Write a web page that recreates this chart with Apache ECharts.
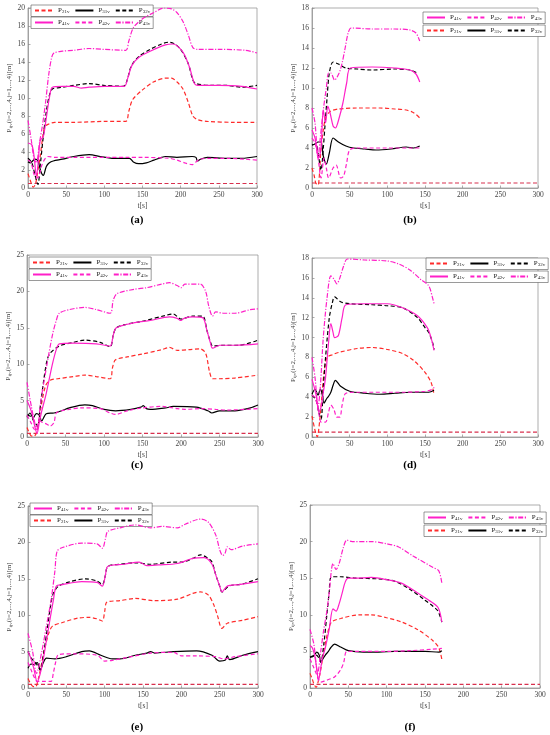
<!DOCTYPE html>
<html><head><meta charset="utf-8">
<script src="https://cdn.jsdelivr.net/npm/echarts@6/dist/echarts.min.js"></script>
<style>html,body{margin:0;padding:0;background:#fff}#c{width:550px;height:735px}</style>
</head><body><div id="c"></div>
<script>
// ---- Data (t [s], value [m]) ----
const SAFE = [[0,0.5],[300,0.5]];

const A_P21 = [[0,1.6],[4,0.6],[7,0.1],[10,0.5],[13,2],[16,3.5],[19,5.5],[22,6.8],[27,7.1],[35,7.3],[60,7.3],[100,7.4],[128,7.4],[132,8.5],[137,9.8],[150,10.9],[165,11.8],[180,12.2],[188,12.2],[195,11.8],[203,11],[210,9.5],[216,8],[222,7.6],[235,7.4],[270,7.3],[300,7.3]];
const A_P31 = [[0,2.9],[3,2.8],[9,3.2],[13,3.0],[17,1.8],[20,1.4],[24,2.4],[28,2.8],[33,3.0],[45,3.2],[60,3.5],[80,3.7],[95,3.5],[110,3.3],[128,3.3],[133,3.3],[138,2.9],[145,2.7],[155,2.8],[165,3.1],[175,3.4],[180,3.5],[195,3.4],[215,3.5],[220,3.4],[222,3.0],[226,3.2],[235,3.4],[260,3.3],[280,3.3],[300,3.5]];
const A_P32 = [[0,3.3],[5,2.8],[9,1.5],[13,0.4],[16,2.5],[20,5.7],[24,8.5],[28,10.3],[32,11],[45,11.2],[60,11.4],[80,11.6],[100,11.4],[125,11.3],[130,12],[135,13.5],[145,14.6],[160,15.4],[175,16],[185,16.2],[192,16],[200,15.4],[210,13.8],[216,12],[220,11.6],[240,11.4],[260,11.4],[280,11.2],[300,11.4]];
const A_P41 = [[0,5],[5,4.8],[8,3.5],[11,1.3],[13,2.5],[16,5.3],[20,5.7],[24,7.8],[28,10],[32,11.2],[45,11.3],[60,11.3],[70,11.1],[80,11.2],[100,11.3],[126,11.3],[131,12.3],[136,13.6],[145,14.5],[160,15.2],[180,15.9],[190,16],[198,15.6],[205,14.8],[212,13.3],[218,11.6],[222,11.4],[250,11.4],[280,11.3],[300,11.0]];
const A_P42 = [[0,3.1],[4,2.8],[8,1.5],[11,1.1],[14,1.3],[18,2.5],[22,3.2],[26,3.5],[35,3.4],[60,3.4],[100,3.4],[130,3.4],[150,3.4],[185,3.3],[195,3.1],[205,2.8],[215,2.6],[220,2.9],[225,3.2],[240,3.3],[260,3.3],[285,3.2],[300,3.1]];
const A_P43 = [[0,7.5],[4,5.5],[8,3.2],[11,2.8],[15,5],[19,7],[23,9.5],[27,12.5],[31,14.5],[34,15],[45,15.2],[60,15.3],[80,15.5],[100,15.4],[128,15.3],[132,16.3],[138,17.8],[150,18.8],[165,19.5],[178,20],[188,19.9],[195,19.5],[203,18.5],[210,17],[216,15.6],[222,15.4],[250,15.4],[285,15.3],[300,15.0]];

const B_P21 = [[0,2],[3,1.2],[5,0.5],[8,0.3],[10,1.5],[12,4],[15,5.8],[18,7],[22,7.5],[25,7.7],[35,7.9],[60,8],[90,8],[110,7.9],[125,7.8],[133,7.6],[139,7.3],[143,7]];
const B_P31 = [[0,4.3],[4,4.4],[8,4.6],[12,4.6],[15,3.2],[19,2.4],[23,3.5],[28,5],[35,4.6],[45,4.2],[55,4.0],[70,3.9],[85,3.8],[105,3.9],[125,4.1],[135,4.0],[143,4.2]];
const B_P32 = [[0,4.3],[5,4.4],[8,3.5],[12,1.8],[15,4],[17,6],[20,9],[23,11.5],[28,12.6],[35,12.4],[45,12],[60,11.9],[80,11.8],[110,11.9],[130,11.8],[140,11.5]];
const B_P41 = [[0,5.8],[4,5],[9,3],[12,4],[15,7.8],[18,6.5],[21,8.2],[24,7.5],[28,6.2],[31,6],[36,7],[41,8.5],[46,10.5],[51,12],[80,12.1],[110,12],[130,11.8],[138,11.4],[143,10.6]];
const B_P42 = [[0,5],[4,4.5],[8,3],[12,1],[16,3],[19,2],[22,1],[28,2],[32,2.3],[38,1],[42,1.2],[46,2.5],[50,3.8],[60,4],[100,4],[130,4],[143,4]];
const B_P43 = [[0,8],[4,6.5],[8,3],[11,5],[15,7.8],[19,10],[22,11.5],[25,11.5],[30,10.8],[36,11.5],[40,12.5],[44,14],[48,15.5],[52,16],[80,15.9],[110,15.9],[130,15.8],[138,15.5],[143,14.7]];

const C_P21 = [[0,1.3],[5,0.2],[9,0.1],[13,0.8],[18,4],[24,7],[30,7.8],[40,8],[60,8.3],[75,8.5],[90,8.3],[108,8],[111,9.5],[115,10.6],[130,11],[150,11.4],[175,12],[185,12.3],[195,11.9],[210,12],[225,12.1],[232,11.5],[237,9],[241,8],[250,8],[270,8.1],[300,8.5]];
const C_P31 = [[0,2.7],[4,3.3],[8,2.6],[12,3.2],[16,3],[19,2.2],[25,3.2],[35,3.3],[45,3.6],[55,4],[75,4.4],[85,4.3],[100,3.8],[115,3.6],[135,3.8],[148,4.1],[151,4.3],[155,3.9],[160,3.8],[180,4],[190,4.2],[220,4.1],[235,3.6],[240,3.3],[250,3.6],[270,3.6],[290,4],[300,4.4]];
const C_P32 = [[0,3],[5,2.8],[10,2],[14,1.5],[17,4],[22,8],[26,10.5],[30,11.5],[42,12.5],[60,13],[75,13.3],[95,13],[108,12.4],[112,14],[116,15],[130,15.5],[150,15.9],[180,16.7],[190,16.9],[200,16.2],[215,16.6],[228,16.6],[234,14.5],[239,12.8],[241,12.5],[255,12.6],[275,12.6],[300,13.3]];
const C_P41 = [[0,5],[4,4],[7,3],[10,1.5],[13,0.5],[16,2],[19,3.5],[25,6],[33,10],[38,12],[42,12.8],[60,12.9],[90,12.8],[108,12.5],[112,14],[116,15],[140,15.7],[160,16],[185,16.5],[195,16.3],[200,16],[204,16.3],[215,16.5],[228,16.4],[234,14.5],[238,13],[241,12.2],[250,12.6],[270,12.6],[300,12.8]];
const C_P42 = [[0,3],[5,2],[10,1],[13,1.5],[17,2.2],[20,2],[25,1.8],[30,1.5],[35,2],[38,3.3],[45,3.6],[55,3.8],[70,4],[95,3.9],[108,3.3],[115,3.1],[130,3.6],[150,4],[175,4.2],[195,3.9],[205,3.8],[225,3.9],[245,3.8],[260,3.7],[300,3.9]];
const C_P43 = [[0,7.5],[6,4],[10,2],[13,1],[18,5],[26,10],[33,14],[38,16],[42,17],[55,17.5],[75,17.8],[90,17.5],[108,17],[112,18.8],[117,19.7],[140,20.3],[155,20.5],[175,21],[185,21.2],[195,20.8],[200,20.5],[205,21],[225,21],[232,20],[236,18],[241,16.6],[245,17.2],[255,17],[270,17],[290,17.5],[300,17.6]];

const D_P21 = [[0,2.1],[3,1],[5,0.4],[7,0],[10,1.5],[13,4],[16,6.5],[20,8],[28,8.3],[35,8.5],[60,8.9],[80,9],[100,8.8],[120,8.4],[135,7.7],[150,6.5],[158,5.5],[162,4.3]];
const D_P31 = [[0,4.3],[4,4.8],[8,4.2],[11,4.8],[13,4.5],[16,3.4],[19,3.8],[22,4.1],[25,4.5],[28,5.2],[31,5.7],[38,5.1],[50,4.6],[70,4.4],[90,4.3],[110,4.4],[130,4.5],[155,4.5],[162,4.7]];
const D_P32 = [[0,4.2],[5,3.8],[9,2.5],[12,1.8],[15,5],[18,8],[23,12],[27,13.5],[30,14.1],[38,13.6],[50,13.4],[80,13.3],[100,13.2],[120,13],[140,12],[150,11],[155,10.5],[160,9.5],[162,8.8]];
const D_P41 = [[0,5.8],[3,5],[6,4],[9,2.5],[12,3],[15,4.5],[18,6],[22,9.5],[25,11.4],[28,10.5],[30,10],[35,10.2],[40,12],[45,13.3],[70,13.4],[100,13.4],[120,13],[140,12.2],[153,11],[158,10],[162,8.7]];
const D_P42 = [[0,4.2],[4,4],[7,3.2],[10,2],[12,1.5],[18,1.5],[22,2.5],[25,3.2],[29,2.8],[33,2],[37,2],[40,3.2],[45,4.4],[60,4.5],[120,4.5],[150,4.6],[160,4.8],[162,5]];
const D_P43 = [[0,8],[4,6],[8,3],[11,5],[15,10],[20,14],[25,16.2],[29,15.9],[33,15.4],[37,16],[42,17.2],[47,17.9],[70,17.8],[100,17.7],[115,17.4],[130,16.8],[145,15.8],[155,15.2],[160,14],[162,13.4]];

const E_P21 = [[0,1.3],[4,0.5],[7,0.2],[10,0.2],[14,1.5],[18,3.5],[22,5.5],[27,7.5],[32,8.5],[45,9],[65,9.6],[80,9.7],[90,9.5],[97,9.2],[100,10.5],[103,11.8],[120,12],[140,12.3],[165,12],[195,12.2],[215,13],[225,13.2],[235,12.8],[242,11.5],[247,10],[253,8.2],[260,8.9],[280,9.3],[300,9.8]];
const E_P31 = [[0,2.7],[4,3.3],[8,3.2],[12,3.5],[16,2.5],[20,3.5],[24,4.1],[35,4],[50,4.3],[70,5],[80,5.1],[95,4.5],[110,4],[120,4],[140,4.5],[155,4.8],[160,5],[165,4.8],[190,5],[220,5.1],[240,4.5],[250,3.7],[257,3.8],[260,4.4],[263,3.9],[280,4.5],[300,5]];
const E_P32 = [[0,5],[5,4],[10,3.5],[16,2.5],[20,4.5],[25,8],[29,11],[33,13],[40,14],[55,14.6],[75,15],[90,14.7],[97,14.2],[101,15.5],[104,16.7],[120,17],[140,17.2],[160,17],[190,17.3],[200,17.3],[215,17.8],[225,18.3],[235,17.8],[240,17.3],[245,15.5],[250,14],[253,13.2],[262,14],[280,14.3],[300,15]];
const E_P41 = [[0,5],[4,4],[8,2.5],[12,0.8],[16,2],[20,4],[24,6.5],[28,9],[33,12],[37,14],[45,14.2],[70,14.6],[90,14.5],[97,14],[101,15.5],[104,16.7],[125,17],[145,17.3],[155,16.8],[170,16.9],[195,17.1],[215,17.8],[230,17.9],[240,17],[245,15.5],[250,14],[253,13.2],[260,14],[275,14.2],[300,14.6]];
const E_P42 = [[0,3.5],[4,2.5],[8,1.5],[12,0.9],[20,0.9],[30,0.9],[33,2],[36,3.5],[40,4.6],[60,4.7],[90,4.5],[100,3.7],[110,3.8],[130,4.2],[160,4.8],[190,4.9],[200,4.4],[220,4.4],[245,4.3],[255,4],[270,4.3],[300,4.7]];
const E_P43 = [[0,7.5],[6,5],[11,2],[18,5],[24,8.5],[30,12],[35,16],[38,18.8],[45,19.3],[70,19.9],[90,19.8],[97,19.2],[101,20.5],[104,21.5],[120,22],[140,22.4],[160,22],[175,22.2],[195,22],[205,22.5],[225,23.2],[235,22.8],[245,21],[250,19],[254,18.2],[257,18.5],[260,19.4],[265,19],[280,19.5],[300,19.8]];

const F_P21 = [[0,2],[3,1.2],[5,0.6],[8,0.1],[11,1],[14,2.5],[18,5],[23,7.5],[28,9],[40,9.5],[65,10],[80,10],[100,9.6],[120,9],[140,8],[160,6.5],[168,5.5],[172,3.9]];
const F_P31 = [[0,4.2],[4,4.3],[9,4.9],[12,4.5],[14,3.6],[17,4],[20,4.5],[24,5],[27,5.5],[32,6],[40,5.6],[50,5.1],[70,4.9],[90,4.9],[110,5],[150,5],[168,4.9],[172,5.1]];
const F_P32 = [[0,4.2],[4,4.4],[8,4.5],[11,4.2],[14,3.5],[18,6],[22,10],[25,13],[28,15.2],[40,15.2],[60,15],[90,14.9],[110,14.6],[130,13.5],[150,12],[160,11.2],[167,10.5],[172,9]];
const F_P41 = [[0,5.8],[3,5.5],[6,4.5],[9,2.5],[11,1],[13,2],[16,4],[20,5.5],[25,8],[30,10.8],[34,10.5],[38,11.5],[42,13],[46,14.5],[50,15],[60,15],[80,15.1],[100,14.8],[120,14.3],[140,13],[155,12],[167,11],[172,9]];
const F_P42 = [[0,4],[4,3],[8,2],[11,1.2],[14,0.8],[20,1],[25,1.2],[32,1.5],[40,2.5],[44,3.5],[48,5],[60,5],[100,5],[130,5.1],[160,5.3],[172,5.4]];
const F_P43 = [[0,8],[5,6],[10,2],[14,5],[18,8],[22,10.5],[25,13],[30,17],[34,16.2],[38,17],[43,19],[48,20.2],[55,20],[80,20],[100,19.7],[115,19.3],[135,18],[160,16.5],[168,16],[172,14.3]];

const SERIES_NAMES = ['P21v','P31v','P32v','P41v','P42v','P43v'];
const PANEL_LABELS = ['(a)','(b)','(c)','(d)','(e)','(f)'];
const Y_MAX = [20,18,25,18,25,25];
const Y_STEP = [2,2,5,2,5,5];
const X_TICKS = {min:0,max:300,step:50};

// ---- Layout / styles ----
const FONT = 'Liberation Serif';
const RED = '#ff2b2b', MAG = '#ff1fc8', BLK = '#000000';
const STYLES = {
  P21v:{color:RED,type:[4,2.5]},
  P31v:{color:BLK,type:'solid'},
  P32v:{color:BLK,type:[4,2.5]},
  P41v:{color:MAG,type:'solid'},
  P42v:{color:MAG,type:[4,2.5]},
  P43v:{color:MAG,type:[5,1.6,1.2,1.6]}
};
const panels = [
  {grid:{left:28,top:8,width:229,height:180}, data:[A_P21,A_P31,A_P32,A_P41,A_P42,A_P43],
   leg:[{x:31,y:5,names:['P21v','P31v','P32v']},{x:31,y:17,names:['P41v','P42v','P43v']}], lab:[137,220]},
  {grid:{left:312,top:8,width:226,height:180}, data:[B_P21,B_P31,B_P32,B_P41,B_P42,B_P43],
   leg:[{x:423,y:12,names:['P41v','P42v','P43v']},{x:423,y:25,names:['P21v','P31v','P32v']}], lab:[410,220]},
  {grid:{left:27,top:255,width:231,height:182}, data:[C_P21,C_P31,C_P32,C_P41,C_P42,C_P43],
   leg:[{x:29,y:257,names:['P21v','P31v','P32v']},{x:29,y:269,names:['P41v','P42v','P43v']}], lab:[137,465]},
  {grid:{left:312,top:258,width:226,height:179}, data:[D_P21,D_P31,D_P32,D_P41,D_P42,D_P43],
   leg:[{x:426,y:258,names:['P21v','P31v','P32v']},{x:426,y:271,names:['P41v','P42v','P43v']}], lab:[410,465]},
  {grid:{left:28,top:506,width:230,height:182}, data:[E_P21,E_P31,E_P32,E_P41,E_P42,E_P43],
   leg:[{x:30,y:503,names:['P41v','P42v','P43v']},{x:30,y:515,names:['P21v','P31v','P32v']}], lab:[137,727]},
  {grid:{left:310,top:505,width:230,height:183}, data:[F_P21,F_P31,F_P32,F_P41,F_P42,F_P43],
   leg:[{x:424,y:512,names:['P41v','P42v','P43v']},{x:424,y:525,names:['P21v','P31v','P32v']}], lab:[410,727]}
];

const grids=[], xAxes=[], yAxes=[], series=[], legends=[], graphics=[];
const axisCommon = {
  axisLine:{show:true,lineStyle:{color:'#8a8a8a',width:0.7}},
  axisTick:{show:true,inside:true,length:2.5,lineStyle:{color:'#8a8a8a',width:0.7}},
  splitLine:{show:false},
  axisLabel:{fontFamily:FONT,fontSize:7.5,color:'#444',margin:3}
};
panels.forEach((p,i)=>{
  grids.push(Object.assign({show:true,borderColor:'#8a8a8a',borderWidth:0.7,containLabel:false},p.grid));
  xAxes.push(Object.assign({type:'value',gridIndex:i,min:X_TICKS.min,max:X_TICKS.max,interval:X_TICKS.step,
    name:'t[s]',nameLocation:'middle',nameGap:14,nameTextStyle:{fontFamily:FONT,fontSize:7.5,color:'#444'}},axisCommon));
  yAxes.push(Object.assign({type:'value',gridIndex:i,min:0,max:Y_MAX[i],interval:Y_STEP[i],
    name:'{a|P}{b|ijv}{a|(i=2,...,4,j=1,...,4)[m]}',nameLocation:'middle',nameGap:14,
    nameTextStyle:{fontFamily:FONT,color:'#444',rich:{a:{fontFamily:FONT,fontSize:7,color:'#444'},b:{fontFamily:FONT,fontSize:5,color:'#444',padding:[3,0,0,0]}}}},axisCommon));
  p.data.forEach((d,k)=>{
    const nm = SERIES_NAMES[k], st = STYLES[nm];
    series.push({type:'line',name:nm,xAxisIndex:i,yAxisIndex:i,data:d,showSymbol:false,symbol:'none',
      smooth:0.3,color:st.color,lineStyle:{color:st.color,type:st.type,width:1.2},z:3+k});
  });
  series.push({type:'line',name:'safe',xAxisIndex:i,yAxisIndex:i,data:SAFE,showSymbol:false,symbol:'none',
    color:'#d8304e',lineStyle:{color:'#d8304e',type:[4,2.5],width:1.2},z:2});
  p.leg.forEach(l=>{
    legends.push({left:l.x,top:l.y,orient:'horizontal',data:l.names,selectedMode:false,
      itemWidth:18,itemHeight:6,itemGap:5,padding:[2,3,2,3],
      borderColor:'#555',borderWidth:0.6,backgroundColor:'#fff',
      itemStyle:{color:'rgba(0,0,0,0)',borderColor:'rgba(0,0,0,0)',borderWidth:0,opacity:0},
      formatter:n=>'{p|P}{s|'+n.slice(1)+'}',
      textStyle:{fontFamily:FONT,fontSize:7,color:'#222',
        rich:{p:{fontFamily:FONT,fontSize:7,color:'#222'},s:{fontFamily:FONT,fontSize:5,color:'#222',padding:[3,0,0,0]}}}});
  });
  graphics.push({type:'text',x:p.lab[0],y:p.lab[1],style:{text:PANEL_LABELS[i],textAlign:'center',textVerticalAlign:'middle',
    font:'bold 11px "Liberation Serif"',fill:'#000'}});
});

const chart = echarts.init(document.getElementById('c'),null,{renderer:'canvas'});
chart.setOption({animation:false,backgroundColor:'#fff',grid:grids,xAxis:xAxes,yAxis:yAxes,series:series,legend:legends,graphic:graphics});
</script></body></html>
